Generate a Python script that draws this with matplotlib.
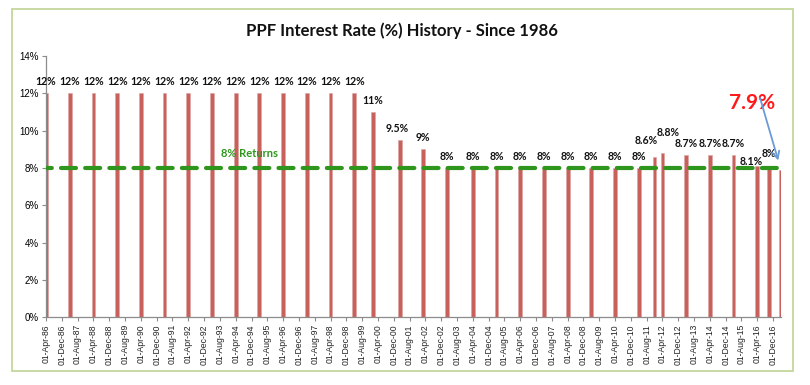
import matplotlib
matplotlib.use("Agg")
import matplotlib.dates as mdates
import matplotlib.patches as patches
import matplotlib.pyplot as plt
import pandas as pd

# PPF rate changes (date the rate took effect, rate in %)
dates = [
    "1986-04-01", "1987-04-01", "1988-04-01", "1989-04-01", "1990-04-01",
    "1991-04-01", "1992-04-01", "1993-04-01", "1994-04-01", "1995-04-01",
    "1996-04-01", "1997-04-01", "1998-04-01", "1999-04-01", "2000-01-15",
    "2001-03-01", "2002-03-01", "2003-03-01", "2004-04-01", "2005-04-01",
    "2006-04-01", "2007-04-01", "2008-04-01", "2009-04-01", "2010-04-01",
    "2011-04-01", "2011-12-01", "2012-04-01", "2013-04-01", "2014-04-01",
    "2015-04-01", "2016-04-01", "2016-10-01", "2017-04-01",
]
rates = [
    12, 12, 12, 12, 12, 12, 12, 12, 12, 12, 12, 12, 12, 12, 11,
    9.5, 9, 8, 8, 8, 8, 8, 8, 8, 8, 8, 8.6, 8.8, 8.7, 8.7,
    8.7, 8.1, 8, 7.9,
]
benchmark = 8
latest_label = "7.9%"
title = "PPF Interest Rate (%) History - Since 1986"

BAR_COLOR = "#c8605c"
GREEN = "#2e961c"
ARROW_BLUE = "#6b9bd6"

# Excel moved a few data labels around; nudges in pixels (dx, dy above bar top)
LABEL_NUDGE = {15: (-2, 11.5), 26: (-8, 16.5), 27: (6, 21), 31: (-6, 5), 32: (0, 14)}

x = pd.to_datetime(dates)

fig = plt.figure(figsize=(8.1, 3.85), dpi=100)
ax = fig.add_axes([46 / 810, 1 - 317.3 / 385, 735 / 810, 261.3 / 385])

fig.patches.append(patches.Rectangle((12 / 810, 1 - 371 / 385), 781 / 810, 362 / 385,
                                     transform=fig.transFigure, fill=False,
                                     edgecolor="#c4d79b", linewidth=1.3))

ax.bar(x, rates, width=58, color=BAR_COLOR, edgecolor="#dba3a1", linewidth=0.4, zorder=2)

# 8% benchmark line
ax.plot([x[0], x[-1]], [benchmark, benchmark], color=GREEN, linewidth=3,
        linestyle=(2.2, (3.6, 2.2)), dash_capstyle="round", zorder=3)
ax.text(pd.Timestamp("1994-11-01"), 8.8, "8% Returns", color=GREEN, fontsize=8,
        fontweight="bold", family="Lato", ha="center", va="center", zorder=4)

for i, (d, v) in enumerate(zip(x[:-1], rates[:-1])):
    dx, dy = LABEL_NUDGE.get(i, (0, 11.5))
    ax.annotate(f"{v:g}%", (d, v), xytext=(dx * 0.72, dy * 0.72), textcoords="offset points",
                ha="center", va="center", fontsize=7.6, fontweight="bold",
                family="Lato", color="#111111", zorder=4, annotation_clip=False)

ax.annotate("", xy=(x[-1], rates[-1]), xytext=(-21 * 0.72, 72 * 0.72),
            textcoords="offset points",
            arrowprops=dict(arrowstyle="->", color=ARROW_BLUE, lw=1.3,
                            shrinkA=0, shrinkB=7, mutation_scale=13),
            annotation_clip=False, zorder=5)
ax.annotate(latest_label, (x[-1], rates[-1]), xytext=(-29 * 0.72, 67 * 0.72),
            textcoords="offset points", ha="center", va="center", color="#ff1a1a",
            fontsize=15, fontweight="bold", family="Lato", annotation_clip=False, zorder=4)

ax.set_xlim(x[0], x[-1])
ax.set_ylim(0, 14)
ax.set_yticks(range(0, 15, 2))
ax.set_yticklabels([f"{t}%" for t in range(0, 15, 2)], fontsize=7, family="Liberation Sans")

ticks = pd.date_range("1986-04-01", "2016-12-01", freq="8MS")
ax.set_xticks(ticks)
ax.xaxis.set_major_formatter(mdates.DateFormatter("%d-%b-%y"))
plt.setp(ax.get_xticklabels(), rotation=90, fontsize=6.2, family="Liberation Sans",
         color="#222222")

for side in ("top", "right"):
    ax.spines[side].set_visible(False)
for side in ("left", "bottom"):
    ax.spines[side].set_color("#8c8c8c")
    ax.spines[side].set_linewidth(0.9)
ax.tick_params(axis="both", direction="out", length=3, color="#8c8c8c", pad=2)

fig.text(402 / 810, 1 - 31 / 385, title, ha="center", va="center", fontsize=12,
         fontweight="bold", family="Lato", color="#111111")

fig.savefig("out.png", dpi=100)
